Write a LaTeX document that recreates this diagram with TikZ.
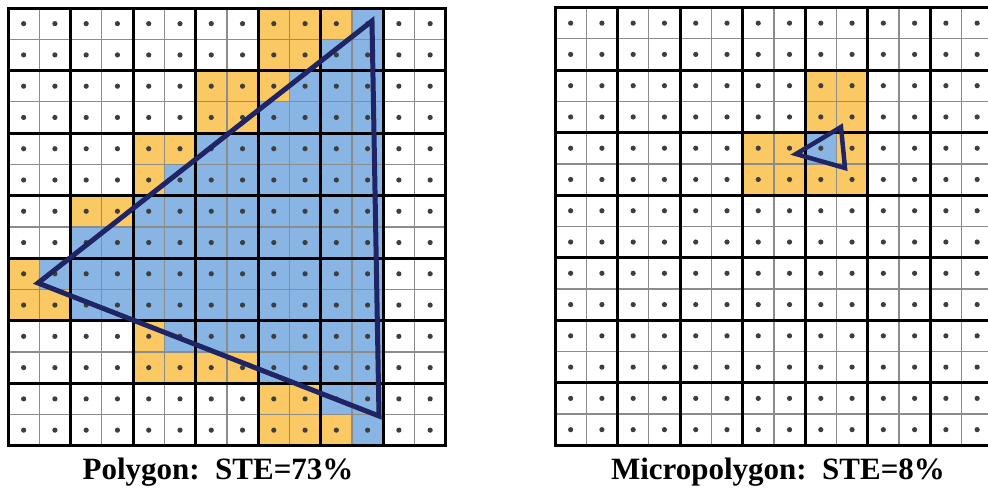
\documentclass[tikz,border=0pt]{standalone}
\usepackage{fontspec}
\setmainfont{Liberation Serif}
\definecolor{qorange}{RGB}{251,201,100}
\definecolor{qblue}{RGB}{137,181,228}
\definecolor{tri}{RGB}{30,36,100}
\definecolor{dotc}{RGB}{62,62,62}
\definecolor{thin}{RGB}{140,140,140}
\tikzset{
  thinline/.style={thin, draw=thin, line width=1.3pt},
  quadline/.style={draw=black, line width=3pt, line cap=rect},
  triline/.style={draw=tri, line width=5pt, line join=miter},
  caption/.style={font=\bfseries\fontsize{31}{33}\selectfont, anchor=base}
}
\begin{document}
\begin{tikzpicture}[x=1pt,y=-1pt]
\useasboundingbox (0,0) rectangle (988,491);
\def\s{31.27}
\fill[white] (0,0) rectangle (988,491);
\begin{scope}
\clip (0,0) rectangle (988,491);
% ---------- left grid fills
\foreach \r/\a/\b in {0/8/10,1/8/9,2/6/8,3/6/7,4/4/5,5/4/4,6/2/3,8/0/0,9/0/1,10/4/4,11/4/7,12/8/9,13/8/10}
  \fill[qorange] (8+\a*\s, 8+\r*\s) rectangle (8+\b*\s+\s, 8+\r*\s+\s);
\foreach \r/\a/\b in {0/11/11,1/10/11,2/9/11,3/8/11,4/6/11,5/5/11,6/4/11,7/2/11,8/1/11,9/2/11,10/5/11,11/8/11,12/10/11,13/11/11}
  \fill[qblue] (8+\a*\s, 8+\r*\s) rectangle (8+\b*\s+\s, 8+\r*\s+\s);
% ---------- right grid fills
\foreach \r/\a/\b in {2/8/9,3/8/9,4/6/7,4/9/9,5/6/9}
  \fill[qorange] (555+\a*\s, 7.5+\r*\s) rectangle (555+\b*\s+\s, 7.5+\r*\s+\s);
\fill[qblue] (555+8*\s, 7.5+4*\s) rectangle (555+9*\s, 7.5+5*\s);
% ---------- grids
\foreach \ox/\oy in {8/8, 555/7.5} {
  \foreach \i in {1,3,...,13} {
    \draw[thinline] (\ox+\i*\s, \oy) -- (\ox+\i*\s, \oy+14*\s);
    \draw[thinline] (\ox, \oy+\i*\s) -- (\ox+14*\s, \oy+\i*\s);
  }
  \foreach \i in {0,2,...,14} {
    \draw[quadline] (\ox+\i*\s, \oy) -- (\ox+\i*\s, \oy+14*\s);
    \draw[quadline] (\ox, \oy+\i*\s) -- (\ox+14*\s, \oy+\i*\s);
  }
  \foreach \i in {0,...,13} {
    \foreach \j in {0,...,13} {
      \fill[dotc] (\ox+\i*\s+0.5*\s, \oy+\j*\s+0.5*\s) circle (2.6);
    }
  }
}
% ---------- triangles
\coordinate (pA) at (372,21);
\coordinate (pB) at (38,283);
\coordinate (pC) at (379,416);
\draw[triline] (pA) -- (pB) -- (pC) -- cycle;
\coordinate (mA) at (841,127);
\coordinate (mB) at (796,154);
\coordinate (mC) at (845,168);
\draw[triline, line width=4.5pt] (mA) -- (mB) -- (mC) -- cycle;
\end{scope}
% ---------- captions
\node[caption] (cap1) at (218,479) {Polygon:\ \ STE=73\%};
\node[caption] (cap2) at (778,479) {Micropolygon:\ \ STE=8\%};
\end{tikzpicture}
\end{document}
